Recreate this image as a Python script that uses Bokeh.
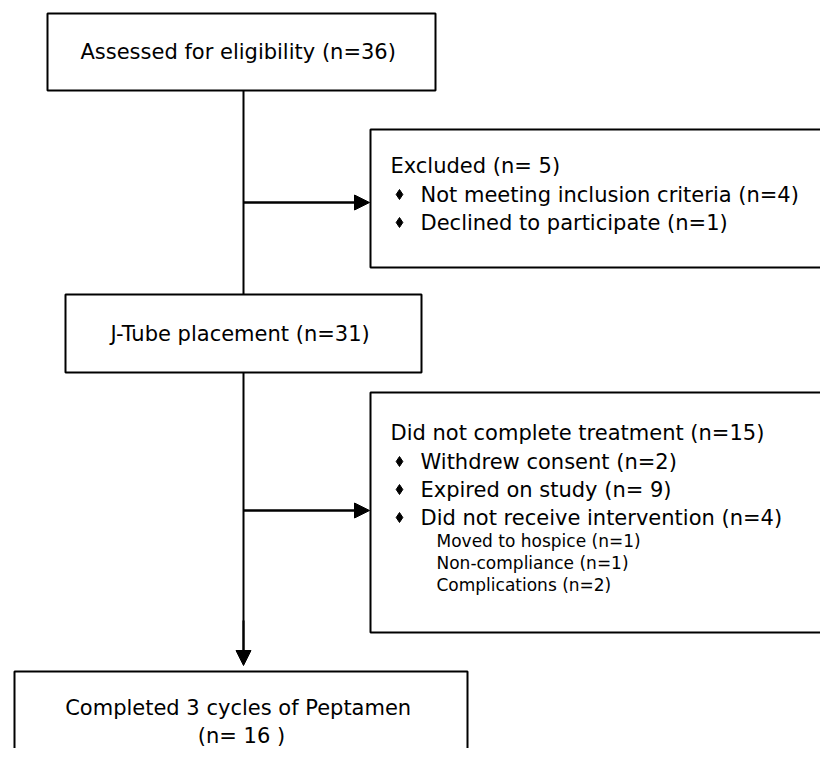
from bokeh.plotting import figure
from bokeh.models import Range1d, Arrow, NormalHead, ColumnDataSource
from bokeh.core.properties import value
from bokeh.embed import file_html
from bokeh.resources import INLINE

# ---- data (texts) ----
box_titles = ["Assessed for eligibility  (n=36)", "J-Tube placement  (n=31)"]
final_lines = ["Completed  3 cycles of Peptamen", "(n= 16 )"]
excl1_title = "Excluded (n= 5)"
excl1_items = ["Not meeting  inclusion  criteria (n=4)", "Declined to participate  (n=1)"]
excl2_title = "Did not complete  treatment (n=15)"
excl2_items = ["Withdrew  consent (n=2)", "Expired on study (n= 9)", "Did not receive intervention  (n=4)"]
excl2_sub = ["Moved to hospice (n=1)", "Non-compliance (n=1)", "Complications (n=2)"]

# ---- layout (reference pixel coordinates) ----
FONT = value("DejaVu Sans")
W, H = 820, 748
p = figure(width=W, height=H, x_range=Range1d(0, W), y_range=Range1d(H, 0),
           output_backend="svg", toolbar_location=None, min_border=0)
p.axis.visible = False
p.grid.visible = False
p.outline_line_color = None

boxes = dict(left=[47, 65, 14, 370, 370], right=[435, 421, 467, 900, 900],
             top=[13, 294, 671, 129, 392], bottom=[90, 372, 800, 267, 632])
p.quad(source=ColumnDataSource(boxes), left="left", right="right", top="top", bottom="bottom",
       fill_color=None, line_color="black", line_width=2)

# connector lines
p.segment(x0=[243, 243, 243, 243], y0=[90, 372, 202, 510], x1=[243, 243, 356, 356], y1=[294, 655, 202, 510],
          line_color="black", line_width=2)
for (xs, ys, xe, ye) in [(243, 202, 369, 202), (243, 510, 369, 510), (243, 620, 243, 665)]:
    p.add_layout(Arrow(end=NormalHead(size=15, fill_color="black", line_color="black"),
                       x_start=xs, y_start=ys, x_end=xe, y_end=ye,
                       line_color="black", line_width=2))

# centered box texts
p.text(x=[241, 243], y=[51, 333], text=box_titles, text_font=FONT, text_font_size="21px",
       text_align="center", text_baseline="middle", text_color="black")
p.text(x=[241, 241], y=[707, 735], text=final_lines, text_font=FONT, text_font_size="21px",
       text_align="center", text_baseline="middle", text_color="black")

# excluded box 1
p.text(x=[390], y=[165], text=[excl1_title], text_font=FONT, text_font_size="21px",
       text_align="left", text_baseline="middle", text_color="black")
y1 = [194, 222]
p.scatter(x=[399] * len(excl1_items), y=y1, marker="diamond", size=10, color="black")
p.text(x=[420] * len(excl1_items), y=y1, text=excl1_items, text_font=FONT, text_font_size="21px",
       text_align="left", text_baseline="middle", text_color="black")

# excluded box 2
p.text(x=[390], y=[432], text=[excl2_title], text_font=FONT, text_font_size="21px",
       text_align="left", text_baseline="middle", text_color="black")
y2 = [461, 489, 517]
p.scatter(x=[399] * len(excl2_items), y=y2, marker="diamond", size=10, color="black")
p.text(x=[420] * len(excl2_items), y=y2, text=excl2_items, text_font=FONT, text_font_size="21px",
       text_align="left", text_baseline="middle", text_color="black")
y3 = [540, 562, 584]
p.text(x=[436] * len(excl2_sub), y=y3, text=excl2_sub, text_font=FONT, text_font_size="17px",
       text_align="left", text_baseline="middle", text_color="black")

open("out.html", "w").write(file_html(p, INLINE))
